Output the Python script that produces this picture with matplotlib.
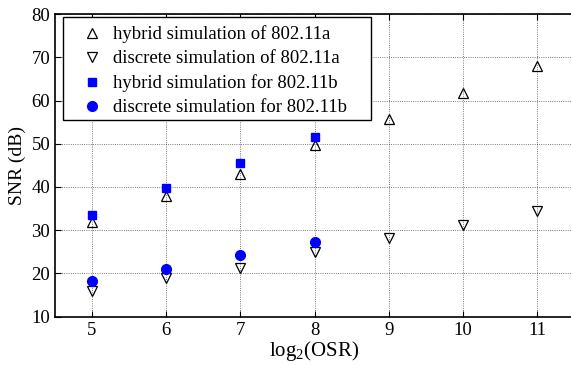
import numpy as np
import matplotlib.pyplot as plt
from matplotlib.patches import Rectangle

plt.rcParams['font.family'] = ['Liberation Serif', 'DejaVu Serif']
plt.rcParams['mathtext.fontset'] = 'custom'
plt.rcParams['mathtext.rm'] = 'Liberation Serif'

# data
osr_a = [5, 6, 7, 8, 9, 10, 11]
hybrid_a = [32, 38, 43, 49.7, 55.8, 61.8, 68]
discrete_a = [16, 19, 21.3, 25, 28.3, 31.2, 34.4]

osr_b = [5, 6, 7, 8]
hybrid_b = [33.6, 39.7, 45.5, 51.5]
discrete_b = [18.2, 21.1, 24.2, 27.2]

xticks = [5, 6, 7, 8, 9, 10, 11]
yticks = [10, 20, 30, 40, 50, 60, 70, 80]

fig = plt.figure(figsize=(5.71, 3.65), dpi=100)
# the plot box runs a little past the right edge of the picture
ax = fig.add_axes([0.0963, 0.1323, 0.909, 0.8293])

ax.plot(osr_a, hybrid_a, '^', mfc='none', mec='black', ms=7, mew=0.9,
        label='hybrid simulation of 802.11a')
ax.plot(osr_a, discrete_a, 'v', mfc='none', mec='black', ms=7, mew=0.9,
        label='discrete simulation of 802.11a')
ax.plot(osr_b, hybrid_b, 's', color='blue', ms=6,
        label='hybrid simulation for 802.11b')
ax.plot(osr_b, discrete_b, 'o', color='blue', ms=7,
        label='discrete simulation for 802.11b')

ax.set_xlim(4.5, 11.5)
ax.set_ylim(10, 80)
ax.set_xticks(xticks)
ax.set_yticks(yticks)
ax.tick_params(direction='in', top=True, right=False, labelsize=13.5, length=4)
ax.grid(True, linestyle=':', color='black', linewidth=0.6, alpha=0.7)
for s in ax.spines.values():
    s.set_linewidth(1.2)
ax.spines['right'].set_color('none')

ax.set_xlabel('log$_2$(OSR)', fontsize=15, labelpad=0)
ax.set_ylabel('SNR (dB)', fontsize=14, labelpad=4)

# legend box drawn by hand (matlab style, wider than the text)
box = Rectangle((0.0154, 0.650), 0.594, 0.340, transform=ax.transAxes,
                facecolor='white', edgecolor='black', linewidth=1.0, zorder=5)
ax.add_patch(box)
leg = ax.legend(loc='upper left', bbox_to_anchor=(0.0262, 0.99), borderaxespad=0,
                fontsize=13.5, frameon=False, handletextpad=0.32,
                labelspacing=0.37, borderpad=0.45, handlelength=1.6)
leg.set_zorder(6)

fig.savefig('out.png', dpi=100)
